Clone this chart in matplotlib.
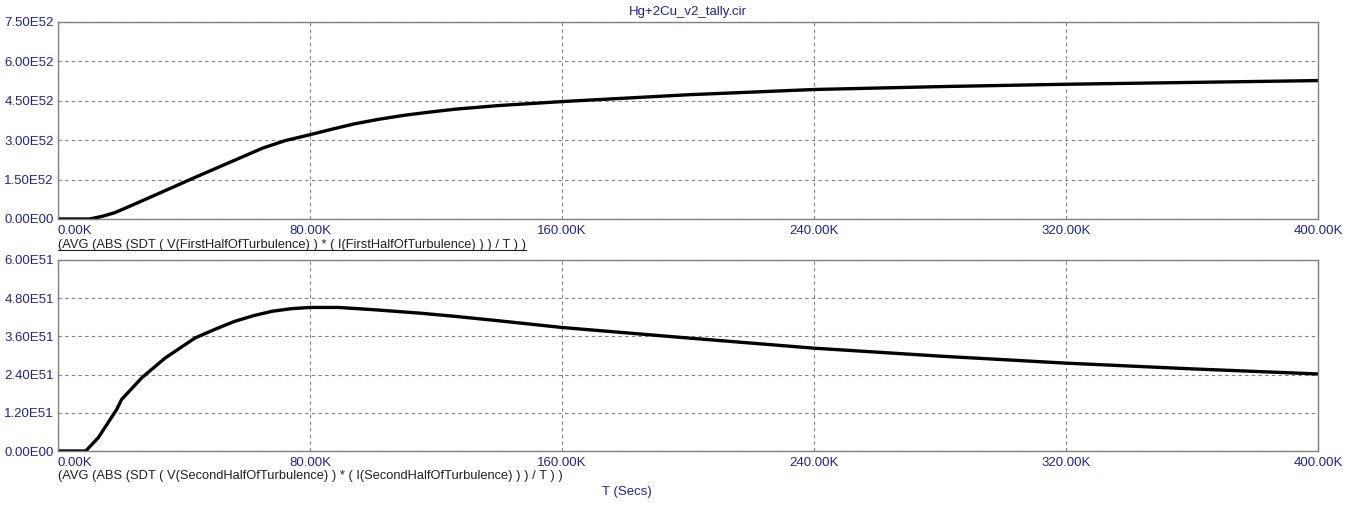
import numpy as np
import matplotlib
matplotlib.use('Agg')
import matplotlib.pyplot as plt
from matplotlib.lines import Line2D

# time points in K-seconds
t_top = [0, 10, 14, 18, 24, 31, 44, 54, 65, 72, 80, 87, 94, 102, 110, 118, 126, 140,
         160, 200, 240, 280, 320, 360, 400]
v_top = [0, 0, 0.1, 0.24, 0.55, 0.92, 1.61, 2.13, 2.70, 2.98, 3.21, 3.42, 3.62, 3.80,
         3.95, 4.07, 4.18, 4.32, 4.47, 4.73, 4.93, 5.04, 5.13, 5.20, 5.27]  # x 1E52

t_bot = [0, 8.8, 12.8, 18.6, 20.2, 26.6, 34, 43.5, 50, 56, 62, 68, 74, 80, 89, 100,
         115, 126, 140, 160, 200, 240, 280, 320, 360, 400]
v_bot = [0, 0, 0.42, 1.30, 1.62, 2.30, 2.92, 3.55, 3.83, 4.07, 4.25, 4.39, 4.47, 4.51,
         4.51, 4.44, 4.33, 4.23, 4.09, 3.88, 3.55, 3.23, 2.98, 2.76, 2.58, 2.42]  # x 1E51

x_ticks = [0, 80, 160, 240, 320, 400]
x_labels = ['0.00K', '80.00K', '160.00K', '240.00K', '320.00K', '400.00K']
y_ticks_top = [0, 1.5, 3.0, 4.5, 6.0, 7.5]
y_labels_top = ['0.00E00', '1.50E52', '3.00E52', '4.50E52', '6.00E52', '7.50E52']
y_ticks_bot = [0, 1.2, 2.4, 3.6, 4.8, 6.0]
y_labels_bot = ['0.00E00', '1.20E51', '2.40E51', '3.60E51', '4.80E51', '6.00E51']

title = 'Hg+2Cu_v2_tally.cir'
label_top = '(AVG (ABS (SDT ( V(FirstHalfOfTurbulence) ) * ( I(FirstHalfOfTurbulence) ) ) / T ) )'
label_bot = '(AVG (ABS (SDT ( V(SecondHalfOfTurbulence) ) * ( I(SecondHalfOfTurbulence) ) ) / T ) )'

plt.rcParams['font.family'] = ['Liberation Sans', 'DejaVu Sans']
blue = '#22228c'
W, H = 1353, 513

fig = plt.figure(figsize=(W / 100, H / 100), dpi=100)
ax1 = fig.add_axes([58 / W, 1 - 219 / H, 1260 / W, 197 / H])
ax2 = fig.add_axes([58 / W, 1 - 451 / H, 1260 / W, 191 / H])


def style(ax, t, v, yt, yl):
    ax.plot(t, v, color='black', lw=2.4, solid_joinstyle='round')
    ax.set_xlim(0, 400)
    ax.set_ylim(yt[0], yt[-1])
    ax.set_xticks(x_ticks)
    ax.set_xticklabels(x_labels)
    ax.set_yticks(yt)
    ax.set_yticklabels(yl)
    ax.tick_params(length=0, labelsize=9.5, labelcolor=blue, pad=3)
    ax.tick_params(axis='x', pad=4)
    ax.get_xticklabels()[0].set_horizontalalignment('left')
    ax.grid(True, color='#808080', lw=0.8, linestyle=(0, (3, 3)))
    for s in ax.spines.values():
        s.set_color('#808080')
        s.set_linewidth(1)


style(ax1, t_top, v_top, y_ticks_top, y_labels_top)
style(ax2, t_bot, v_bot, y_ticks_bot, y_labels_bot)

fig.text(688 / W, 1 - 12 / H, title, color=blue, fontsize=9.5, ha='center', va='center')
txt = fig.text(58 / W, 1 - 245 / H, label_top, color='#202020', fontsize=9.25, va='center')
fig.text(58 / W, 1 - 476 / H, label_bot, color='#202020', fontsize=9.25, va='center')
fig.text(627 / W, 1 - 492 / H, 'T (Secs)', color=blue, fontsize=9.5, ha='center', va='center')

# underline the selected trace label
fig.canvas.draw()
bb = txt.get_window_extent()
inv = fig.transFigure.inverted()
(x0, y0), (x1, _) = inv.transform([(bb.x0, bb.y0 + 1), (bb.x1, bb.y0 + 1)])
fig.add_artist(Line2D([x0, x1], [y0, y0], color='#202020', lw=0.8))

plt.savefig('out.png', dpi=100)
plt.close()
